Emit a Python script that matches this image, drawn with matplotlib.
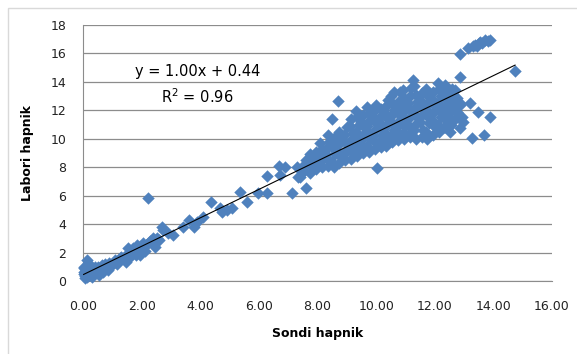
import matplotlib
matplotlib.use("Agg")
import matplotlib.pyplot as plt
from matplotlib.patches import Rectangle

# low range (0 - 4)
sondi_low = [0.02, 0.05, 0.07, 0.1, 0.12, 0.15, 0.18, 0.05, 0.2, 0.25, 0.3, 0.35, 0.4, 0.45,
             0.5, 0.55, 0.6, 0.65, 0.7, 0.75, 0.8, 0.9, 1.0, 1.1, 1.2, 1.3, 1.4, 1.5, 1.55,
             1.6, 1.7, 1.72, 1.8, 1.85, 1.9, 2.0, 2.05, 2.1, 2.2, 2.23, 2.3, 2.34, 2.4, 2.51,
             2.69, 2.74, 2.91, 3.08, 3.42, 3.6, 3.77, 3.88,
             0.03, 0.08, 0.15, 0.22, 0.3, 0.42, 0.55, 0.68, 0.85, 0.95, 1.15, 1.25, 1.45,
             1.65, 1.95, 2.15, 2.45, 2.6]
labori_low = [0.65, 0.5, 0.2, 0.8, 1.1, 1.45, 0.6, 0.9, 0.4, 0.7, 0.5, 0.9, 0.6, 0.8,
              1.0, 0.7, 0.9, 1.1, 0.8, 1.2, 1.0, 1.3, 1.2, 1.5, 1.4, 1.7, 1.6, 1.9, 2.35,
              1.7, 2.1, 2.3, 1.8, 2.5, 2.2, 2.4, 2.7, 2.1, 2.6, 5.82, 2.8, 2.65, 3.0, 3.0,
              3.82, 3.59, 3.35, 3.23, 3.82, 4.29, 3.82, 4.17,
              1.0, 0.35, 0.3, 1.2, 0.3, 1.0, 0.45, 0.6, 0.8, 1.05, 1.2, 1.6, 1.35,
              1.95, 1.85, 2.5, 2.4, 2.85]

# middle range (4 - 7.5)
sondi_mid = [4.11, 4.36, 4.68, 4.74, 4.9, 5.07, 5.36, 5.59, 5.98, 6.27, 6.27, 6.67, 6.89,
             6.72, 7.12, 7.35, 7.41, 7.61, 7.3, 7.45]
labori_mid = [4.52, 5.58, 5.11, 4.88, 4.99, 5.11, 6.28, 5.53, 6.21, 6.17, 7.38, 8.11, 8.04,
              7.45, 6.21, 7.33, 7.33, 6.52, 8.0, 7.85]

# dense cluster (7.5 - 12.8)
sondi_blob = [7.55, 7.5, 7.6, 7.75, 7.8, 7.7, 7.75, 7.95, 8.0, 7.9, 7.95,
              8.15, 8.1, 8.2, 8.15, 8.1, 8.35, 8.4, 8.3, 8.35, 8.4,
              8.55, 8.5, 8.6, 8.55, 8.5, 8.6, 8.75, 8.8, 8.7, 8.75, 8.8, 8.75,
              8.95, 8.9, 9.0, 8.95, 8.9, 9.0, 9.15, 9.2, 9.1, 9.15, 9.2, 9.1, 9.15,
              9.35, 9.3, 9.4, 9.35, 9.3, 9.4, 9.35, 9.3, 9.55, 9.6, 9.5, 9.55, 9.6, 9.5, 9.55,
              9.75, 9.7, 9.8, 9.75, 9.7, 9.8, 9.75, 9.7, 9.95, 10.0, 9.9, 9.95, 10.0, 9.9, 9.95, 10.0,
              10.15, 10.1, 10.2, 10.15, 10.1, 10.2, 10.15, 10.35, 10.4, 10.3, 10.35, 10.4, 10.3, 10.35, 10.4,
              10.55, 10.5, 10.6, 10.55, 10.5, 10.6, 10.55, 10.5, 10.75, 10.8, 10.7, 10.75, 10.8, 10.7, 10.75, 10.8,
              10.95, 10.9, 11.0, 10.95, 10.9, 11.0, 10.95, 10.9, 11.15, 11.2, 11.1, 11.15, 11.2, 11.1, 11.15, 11.2,
              11.35, 11.3, 11.4, 11.35, 11.3, 11.4, 11.35, 11.3, 11.55, 11.6, 11.5, 11.55, 11.6, 11.5, 11.55,
              11.75, 11.7, 11.8, 11.75, 11.7, 11.8, 11.75, 11.7, 11.95, 12.0, 11.9, 11.95, 12.0, 11.9, 11.95,
              12.15, 12.1, 12.2, 12.15, 12.1, 12.2, 12.15, 12.1, 12.35, 12.4, 12.3, 12.35, 12.4, 12.3, 12.35,
              12.55, 12.5, 12.6, 12.55, 12.5, 12.6, 12.7, 12.75, 12.7, 12.75, 12.7]
labori_blob = [7.7, 8.1, 8.5, 7.6, 8.0, 8.5, 8.9, 7.9, 8.3, 8.7, 9.1,
               8.0, 8.4, 8.8, 9.3, 9.7, 8.1, 8.5, 8.9, 9.4, 9.8,
               8.0, 8.4, 8.9, 9.3, 9.7, 10.1, 8.3, 8.7, 9.1, 9.6, 10.0, 10.5,
               8.5, 8.9, 9.3, 9.8, 10.3, 10.8, 8.6, 9.0, 9.5, 9.9, 10.4, 10.9, 11.4,
               8.8, 9.2, 9.6, 10.1, 10.5, 11.0, 11.5, 11.95, 9.0, 9.4, 9.9, 10.3, 10.8, 11.2, 11.7,
               9.1, 9.5, 10.0, 10.4, 10.9, 11.3, 11.8, 12.2, 9.3, 9.7, 10.2, 10.6, 11.1, 11.5, 12.0, 12.35,
               9.4, 9.8, 10.3, 10.8, 11.2, 11.7, 12.1, 9.5, 9.9, 10.4, 10.9, 11.4, 11.8, 12.3, 12.7,
               9.8, 10.2, 10.6, 11.1, 11.6, 12.0, 12.5, 13.0, 9.9, 10.3, 10.8, 11.2, 11.7, 12.2, 12.6, 13.3,
               10.0, 10.4, 10.9, 11.4, 11.9, 12.4, 12.9, 13.4, 10.1, 10.5, 11.0, 11.5, 12.0, 12.5, 13.0, 13.6,
               10.0, 10.6, 11.1, 11.6, 12.1, 12.6, 13.1, 13.7, 10.1, 10.6, 11.2, 11.7, 12.2, 12.7, 13.2,
               10.0, 10.5, 11.1, 11.6, 12.1, 12.6, 13.1, 13.5, 10.3, 10.8, 11.3, 11.8, 12.3, 12.8, 13.3,
               10.5, 11.0, 11.5, 12.0, 12.5, 13.0, 13.5, 13.9, 10.8, 11.3, 11.8, 12.3, 12.8, 13.3, 13.8,
               11.0, 11.5, 12.0, 12.5, 13.0, 13.5, 11.4, 11.9, 12.4, 12.9, 13.4]

# scattered points and the high group
sondi_high = [8.71, 8.49, 8.37, 10.02, 10.62, 11.27, 12.87, 12.87, 13.15, 13.3, 13.38, 13.45,
              13.5, 13.55, 13.6, 13.72, 13.8, 13.88, 12.87, 13.21, 13.49, 13.9, 13.27, 13.68,
              12.87, 12.92, 12.98, 12.3, 12.53, 11.73, 14.74, 12.87]
labori_high = [12.63, 11.38, 10.3, 7.95, 13.3, 14.1, 14.35, 15.96, 16.4, 16.5, 16.6, 16.55,
               16.7, 16.83, 16.75, 16.95, 16.85, 16.95, 12.5, 12.5, 11.86, 11.56, 10.03, 10.27,
               10.74, 11.5, 11.2, 10.85, 10.5, 10.15, 14.79, 12.38]

slope = 1.00
intercept = 0.44
r2 = 0.96

sondi = sondi_low + sondi_mid + sondi_blob + sondi_high
labori = labori_low + labori_mid + labori_blob + labori_high

fig = plt.figure(figsize=(5.77, 3.54), dpi=100)
ax = fig.add_axes([83 / 577, 73 / 354, 469 / 577, 256 / 354])

# chart area border like the excel frame
fig.patches.append(Rectangle((8 / 577, -0.1), 1.2, (346 / 354) + 0.1, transform=fig.transFigure,
                             fill=False, edgecolor="#d9d9d9", linewidth=1))

ax.scatter(sondi, labori, marker="D", s=40, color="#4f81bd", linewidths=0, zorder=3, clip_on=False)

x0, x1 = min(sondi), max(sondi)
ax.plot([x0, x1], [slope * x0 + intercept, slope * x1 + intercept], color="black", lw=0.8, zorder=4)

ax.set_xlim(0, 16)
ax.set_ylim(0, 18)
ax.set_xticks(range(0, 17, 2))
ax.set_xticklabels([f"{v:.2f}" for v in range(0, 17, 2)])
ax.set_yticks(range(0, 19, 2))
ax.grid(axis="y", color="#8c8c8c", lw=0.9)
ax.set_axisbelow(True)
for s in ["top", "right"]:
    ax.spines[s].set_visible(False)
for s in ["left", "bottom"]:
    ax.spines[s].set_color("#8c8c8c")
ax.tick_params(length=0, labelsize=9, colors="#222222")
ax.tick_params(axis="x", pad=14)
ax.tick_params(axis="y", pad=12)

ax.set_xlabel("Sondi hapnik", fontsize=9, fontweight="bold", labelpad=10)
ax.set_ylabel("Labori hapnik", fontsize=9, fontweight="bold", labelpad=12)

ax.text(3.9, 14.7, f"y = {slope:.2f}x + {intercept:.2f}", fontsize=10.5, ha="center", va="center")
ax.text(3.9, 12.95, f"R$^2$ = {r2:.2f}", fontsize=10.5, ha="center", va="center")

fig.savefig("out.png", dpi=100)
